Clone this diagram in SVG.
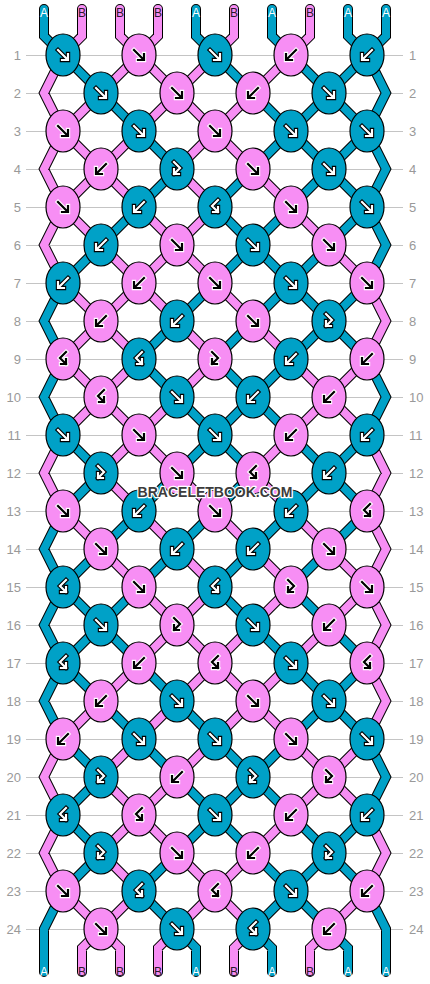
<svg xmlns="http://www.w3.org/2000/svg" xmlns:xlink="http://www.w3.org/1999/xlink" width="430" height="984" viewBox="0 0 430 984">
<style>
.grid line{stroke:#c4c4c4;stroke-width:1}
.num{font-family:"Liberation Sans",Arial,sans-serif;font-size:13px;fill:#999}
.nl{text-anchor:end}
.ol{fill:none;stroke:#000;stroke-width:10;stroke-linejoin:miter;stroke-linecap:round}
.ca{fill:none;stroke:#00a1c7;stroke-width:8;stroke-linejoin:miter;stroke-linecap:round}
.cb{fill:none;stroke:#f78ef4;stroke-width:8;stroke-linejoin:miter;stroke-linecap:round}
.ka{fill:#00a1c7;stroke:#000;stroke-width:1.2}
.kb{fill:#f78ef4;stroke:#000;stroke-width:1.2}
.w{color:#000;stroke:#fff}
.k{color:#fff;stroke:#000}
.lab{font-family:"Liberation Sans",Arial,sans-serif;font-size:12px;text-anchor:middle}
.la{fill:#fff}
.lb{fill:#2a1a2a}
.wm{font-family:"Liberation Sans",Arial,sans-serif;font-size:14px;font-weight:bold;text-anchor:middle;fill:#3c3c3c;stroke:#fff;stroke-width:2.5;paint-order:stroke;stroke-linejoin:round}
</style>
<defs>
<g id="aF" fill="none" stroke-linecap="square"><path d="M-5,-5L4,4M5,-1V5H-1" stroke="currentColor" stroke-width="4.4"/><path d="M-5,-5L4,4M5,-1V5H-1" stroke-width="2.2"/></g>
<g id="aB" fill="none" stroke-linecap="square"><path d="M5,-5L-4,4M-5,-1V5H1" stroke="currentColor" stroke-width="4.4"/><path d="M5,-5L-4,4M-5,-1V5H1" stroke-width="2.2"/></g>
<g id="aFB" fill="none" stroke-linecap="square"><path d="M-3,-7L3,-1L-3,5M-3,0V5H2" stroke="currentColor" stroke-width="4.4"/><path d="M-3,-7L3,-1L-3,5M-3,0V5H2" stroke-width="2.2"/></g>
<g id="aBF" fill="none" stroke-linecap="square"><path d="M3,-7L-3,-1L3,5M3,0V5H-2" stroke="currentColor" stroke-width="4.4"/><path d="M3,-7L-3,-1L3,5M3,0V5H-2" stroke-width="2.2"/></g>
<path id="sa" d="M44 9V36L63 55M196 9V36L215 55M272 9V36L291 55M348 9V36L367 55M386 9V36L367 55
M63 55L101 93M215 55L253 93M291 55L329 93M367 55L329 93M367 55L386 93L367 131
M101 93L139 131M253 93L291 131M329 93L291 131M329 93L367 131
M139 131L177 169M291 131L253 169M291 131L329 169M367 131L329 169M367 131L386 169L367 207
M177 169L139 207M253 169L215 207M329 169L291 207M329 169L367 207
M139 207L101 245M215 207L253 245M291 207L253 245M367 207L329 245M367 207L386 245L367 283
M101 245L63 283M253 245L215 283M253 245L291 283M329 245L291 283
M215 283L177 321M291 283L253 321M291 283L329 321M367 283L329 321M63 283L44 321L63 359
M177 321L139 359M253 321L215 359M329 321L291 359M329 321L367 359
M139 359L177 397M215 359L253 397M291 359L253 397M63 359L44 397L63 435M367 359L386 397L367 435
M177 397L215 435M253 397L215 435M253 397L291 435
M63 435L101 473M215 435L177 473M215 435L253 473M291 435L329 473M367 435L329 473
M101 473L63 511M177 473L139 511M253 473L215 511M329 473L291 511M329 473L367 511
M139 511L101 549M215 511L177 549M291 511L253 549M367 511L329 549M63 511L44 549L63 587
M101 549L63 587M177 549L139 587M253 549L215 587M329 549L291 587
M63 587L101 625M139 587L101 625M215 587L253 625M291 587L329 625M63 587L44 625L63 663
M101 625L63 663M101 625L139 663M253 625L291 663M329 625L367 663
M63 663L101 701M139 663L177 701M291 663L329 701M367 663L329 701M63 663L44 701L63 739
M101 701L139 739M177 701L215 739M329 701L291 739M329 701L367 739
M63 739L101 777M139 739L177 777M215 739L253 777M291 739L253 777M367 739L386 777L367 815
M101 777L63 815M177 777L215 815M253 777L215 815M253 777L291 815
M63 815L101 853M215 815L177 853M215 815L253 853M291 815L329 853M367 815L329 853
M101 853L63 891M177 853L139 891M253 853L291 891M329 853L291 891M329 853L367 891
M139 891L177 929M291 891L253 929M291 891L329 929M63 891L44 929V972M367 891L386 929V972
M177 929L196 948V972M253 929L272 948V972M329 929L348 948V972"/>
<path id="sb" d="M82 9V36L63 55M120 9V36L139 55M158 9V36L139 55M234 9V36L215 55M310 9V36L291 55
M139 55L101 93M139 55L177 93M215 55L177 93M291 55L253 93M63 55L44 93L63 131
M101 93L63 131M177 93L139 131M177 93L215 131M253 93L215 131
M63 131L101 169M139 131L101 169M215 131L177 169M215 131L253 169M63 131L44 169L63 207
M101 169L63 207M101 169L139 207M177 169L215 207M253 169L291 207
M63 207L101 245M139 207L177 245M215 207L177 245M291 207L329 245M63 207L44 245L63 283
M101 245L139 283M177 245L139 283M177 245L215 283M329 245L367 283
M63 283L101 321M139 283L101 321M139 283L177 321M215 283L253 321M367 283L386 321L367 359
M101 321L63 359M101 321L139 359M177 321L215 359M253 321L291 359
M63 359L101 397M139 359L101 397M215 359L177 397M291 359L329 397M367 359L329 397
M101 397L63 435M101 397L139 435M177 397L139 435M329 397L291 435M329 397L367 435
M139 435L101 473M139 435L177 473M291 435L253 473M63 435L44 473L63 511M367 435L386 473L367 511
M101 473L139 511M177 473L215 511M253 473L291 511
M63 511L101 549M139 511L177 549M215 511L253 549M291 511L329 549M367 511L386 549L367 587
M101 549L139 587M177 549L215 587M253 549L291 587M329 549L367 587
M139 587L177 625M215 587L177 625M291 587L253 625M367 587L329 625M367 587L386 625L367 663
M177 625L139 663M177 625L215 663M253 625L215 663M329 625L291 663
M139 663L101 701M215 663L177 701M215 663L253 701M291 663L253 701M367 663L386 701L367 739
M101 701L63 739M177 701L139 739M253 701L215 739M253 701L291 739
M139 739L101 777M215 739L177 777M291 739L329 777M367 739L329 777M63 739L44 777L63 815
M101 777L139 815M177 777L139 815M329 777L291 815M329 777L367 815
M139 815L101 853M139 815L177 853M291 815L253 853M63 815L44 853L63 891M367 815L386 853L367 891
M101 853L139 891M177 853L215 891M253 853L215 891
M63 891L101 929M139 891L101 929M215 891L177 929M215 891L253 929M367 891L329 929
M101 929L82 948V972M101 929L120 948V972M177 929L158 948V972M253 929L234 948V972M329 929L310 948V972"/>
</defs>
<g class="grid">
<line x1="26" y1="55.5" x2="403" y2="55.5"/><line x1="26" y1="93.5" x2="403" y2="93.5"/><line x1="26" y1="131.5" x2="403" y2="131.5"/><line x1="26" y1="169.5" x2="403" y2="169.5"/><line x1="26" y1="207.5" x2="403" y2="207.5"/><line x1="26" y1="245.5" x2="403" y2="245.5"/><line x1="26" y1="283.5" x2="403" y2="283.5"/><line x1="26" y1="321.5" x2="403" y2="321.5"/><line x1="26" y1="359.5" x2="403" y2="359.5"/><line x1="26" y1="397.5" x2="403" y2="397.5"/><line x1="26" y1="435.5" x2="403" y2="435.5"/><line x1="26" y1="473.5" x2="403" y2="473.5"/><line x1="26" y1="511.5" x2="403" y2="511.5"/><line x1="26" y1="549.5" x2="403" y2="549.5"/><line x1="26" y1="587.5" x2="403" y2="587.5"/><line x1="26" y1="625.5" x2="403" y2="625.5"/><line x1="26" y1="663.5" x2="403" y2="663.5"/><line x1="26" y1="701.5" x2="403" y2="701.5"/><line x1="26" y1="739.5" x2="403" y2="739.5"/><line x1="26" y1="777.5" x2="403" y2="777.5"/><line x1="26" y1="815.5" x2="403" y2="815.5"/><line x1="26" y1="853.5" x2="403" y2="853.5"/><line x1="26" y1="891.5" x2="403" y2="891.5"/><line x1="26" y1="929.5" x2="403" y2="929.5"/>
</g>
<g class="num">
<text class="nl" x="21" y="60">1</text><text class="nl" x="21" y="98">2</text><text class="nl" x="21" y="136">3</text><text class="nl" x="21" y="174">4</text><text class="nl" x="21" y="212">5</text><text class="nl" x="21" y="250">6</text><text class="nl" x="21" y="288">7</text><text class="nl" x="21" y="326">8</text><text class="nl" x="21" y="364">9</text><text class="nl" x="21" y="402">10</text><text class="nl" x="21" y="440">11</text><text class="nl" x="21" y="478">12</text><text class="nl" x="21" y="516">13</text><text class="nl" x="21" y="554">14</text><text class="nl" x="21" y="592">15</text><text class="nl" x="21" y="630">16</text><text class="nl" x="21" y="668">17</text><text class="nl" x="21" y="706">18</text><text class="nl" x="21" y="744">19</text><text class="nl" x="21" y="782">20</text><text class="nl" x="21" y="820">21</text><text class="nl" x="21" y="858">22</text><text class="nl" x="21" y="896">23</text><text class="nl" x="21" y="934">24</text>
<text x="409" y="60">1</text><text x="409" y="98">2</text><text x="409" y="136">3</text><text x="409" y="174">4</text><text x="409" y="212">5</text><text x="409" y="250">6</text><text x="409" y="288">7</text><text x="409" y="326">8</text><text x="409" y="364">9</text><text x="409" y="402">10</text><text x="409" y="440">11</text><text x="409" y="478">12</text><text x="409" y="516">13</text><text x="409" y="554">14</text><text x="409" y="592">15</text><text x="409" y="630">16</text><text x="409" y="668">17</text><text x="409" y="706">18</text><text x="409" y="744">19</text><text x="409" y="782">20</text><text x="409" y="820">21</text><text x="409" y="858">22</text><text x="409" y="896">23</text><text x="409" y="934">24</text>
</g>
<g id="connectors">
<use href="#sa" class="ol"/><use href="#sb" class="ol"/>
<use href="#sa" class="ca"/><use href="#sb" class="cb"/>
</g>
<g id="labels" class="lab">
<text class="la" x="44" y="17">A</text><text class="lb" x="82" y="17">B</text><text class="lb" x="120" y="17">B</text><text class="lb" x="158" y="17">B</text><text class="la" x="196" y="17">A</text><text class="lb" x="234" y="17">B</text><text class="la" x="272" y="17">A</text><text class="lb" x="310" y="17">B</text><text class="la" x="348" y="17">A</text><text class="la" x="386" y="17">A</text>
<text class="la" x="44" y="976">A</text><text class="lb" x="82" y="976">B</text><text class="lb" x="120" y="976">B</text><text class="lb" x="158" y="976">B</text><text class="la" x="196" y="976">A</text><text class="lb" x="234" y="976">B</text><text class="la" x="272" y="976">A</text><text class="lb" x="310" y="976">B</text><text class="la" x="348" y="976">A</text><text class="la" x="386" y="976">A</text>
</g>
<g id="knots">
<g id="k1-1"><ellipse class="ka" cx="63" cy="55" rx="17" ry="21"/><use href="#aF" x="63" y="55" class="w"/></g>
<g id="k1-2"><ellipse class="kb" cx="139" cy="55" rx="17" ry="21"/><use href="#aF" x="139" y="55" class="k"/></g>
<g id="k1-3"><ellipse class="ka" cx="215" cy="55" rx="17" ry="21"/><use href="#aF" x="215" y="55" class="w"/></g>
<g id="k1-4"><ellipse class="kb" cx="291" cy="55" rx="17" ry="21"/><use href="#aB" x="291" y="55" class="k"/></g>
<g id="k1-5"><ellipse class="ka" cx="367" cy="55" rx="17" ry="21"/><use href="#aB" x="367" y="55" class="w"/></g>
<g id="k2-1"><ellipse class="ka" cx="101" cy="93" rx="17" ry="21"/><use href="#aF" x="101" y="93" class="w"/></g>
<g id="k2-2"><ellipse class="kb" cx="177" cy="93" rx="17" ry="21"/><use href="#aF" x="177" y="93" class="k"/></g>
<g id="k2-3"><ellipse class="kb" cx="253" cy="93" rx="17" ry="21"/><use href="#aB" x="253" y="93" class="k"/></g>
<g id="k2-4"><ellipse class="ka" cx="329" cy="93" rx="17" ry="21"/><use href="#aF" x="329" y="93" class="w"/></g>
<g id="k3-1"><ellipse class="kb" cx="63" cy="131" rx="17" ry="21"/><use href="#aF" x="63" y="131" class="k"/></g>
<g id="k3-2"><ellipse class="ka" cx="139" cy="131" rx="17" ry="21"/><use href="#aF" x="139" y="131" class="w"/></g>
<g id="k3-3"><ellipse class="kb" cx="215" cy="131" rx="17" ry="21"/><use href="#aF" x="215" y="131" class="k"/></g>
<g id="k3-4"><ellipse class="ka" cx="291" cy="131" rx="17" ry="21"/><use href="#aF" x="291" y="131" class="w"/></g>
<g id="k3-5"><ellipse class="ka" cx="367" cy="131" rx="17" ry="21"/><use href="#aF" x="367" y="131" class="w"/></g>
<g id="k4-1"><ellipse class="kb" cx="101" cy="169" rx="17" ry="21"/><use href="#aB" x="101" y="169" class="k"/></g>
<g id="k4-2"><ellipse class="ka" cx="177" cy="169" rx="17" ry="21"/><use href="#aFB" x="177" y="169" class="w"/></g>
<g id="k4-3"><ellipse class="kb" cx="253" cy="169" rx="17" ry="21"/><use href="#aF" x="253" y="169" class="k"/></g>
<g id="k4-4"><ellipse class="ka" cx="329" cy="169" rx="17" ry="21"/><use href="#aF" x="329" y="169" class="w"/></g>
<g id="k5-1"><ellipse class="kb" cx="63" cy="207" rx="17" ry="21"/><use href="#aF" x="63" y="207" class="k"/></g>
<g id="k5-2"><ellipse class="ka" cx="139" cy="207" rx="17" ry="21"/><use href="#aB" x="139" y="207" class="w"/></g>
<g id="k5-3"><ellipse class="ka" cx="215" cy="207" rx="17" ry="21"/><use href="#aBF" x="215" y="207" class="w"/></g>
<g id="k5-4"><ellipse class="kb" cx="291" cy="207" rx="17" ry="21"/><use href="#aF" x="291" y="207" class="k"/></g>
<g id="k5-5"><ellipse class="ka" cx="367" cy="207" rx="17" ry="21"/><use href="#aF" x="367" y="207" class="w"/></g>
<g id="k6-1"><ellipse class="ka" cx="101" cy="245" rx="17" ry="21"/><use href="#aB" x="101" y="245" class="w"/></g>
<g id="k6-2"><ellipse class="kb" cx="177" cy="245" rx="17" ry="21"/><use href="#aF" x="177" y="245" class="k"/></g>
<g id="k6-3"><ellipse class="ka" cx="253" cy="245" rx="17" ry="21"/><use href="#aF" x="253" y="245" class="w"/></g>
<g id="k6-4"><ellipse class="kb" cx="329" cy="245" rx="17" ry="21"/><use href="#aF" x="329" y="245" class="k"/></g>
<g id="k7-1"><ellipse class="ka" cx="63" cy="283" rx="17" ry="21"/><use href="#aB" x="63" y="283" class="w"/></g>
<g id="k7-2"><ellipse class="kb" cx="139" cy="283" rx="17" ry="21"/><use href="#aB" x="139" y="283" class="k"/></g>
<g id="k7-3"><ellipse class="kb" cx="215" cy="283" rx="17" ry="21"/><use href="#aF" x="215" y="283" class="k"/></g>
<g id="k7-4"><ellipse class="ka" cx="291" cy="283" rx="17" ry="21"/><use href="#aF" x="291" y="283" class="w"/></g>
<g id="k7-5"><ellipse class="kb" cx="367" cy="283" rx="17" ry="21"/><use href="#aF" x="367" y="283" class="k"/></g>
<g id="k8-1"><ellipse class="kb" cx="101" cy="321" rx="17" ry="21"/><use href="#aB" x="101" y="321" class="k"/></g>
<g id="k8-2"><ellipse class="ka" cx="177" cy="321" rx="17" ry="21"/><use href="#aB" x="177" y="321" class="w"/></g>
<g id="k8-3"><ellipse class="kb" cx="253" cy="321" rx="17" ry="21"/><use href="#aF" x="253" y="321" class="k"/></g>
<g id="k8-4"><ellipse class="ka" cx="329" cy="321" rx="17" ry="21"/><use href="#aFB" x="329" y="321" class="w"/></g>
<g id="k9-1"><ellipse class="kb" cx="63" cy="359" rx="17" ry="21"/><use href="#aBF" x="63" y="359" class="k"/></g>
<g id="k9-2"><ellipse class="ka" cx="139" cy="359" rx="17" ry="21"/><use href="#aBF" x="139" y="359" class="w"/></g>
<g id="k9-3"><ellipse class="kb" cx="215" cy="359" rx="17" ry="21"/><use href="#aFB" x="215" y="359" class="k"/></g>
<g id="k9-4"><ellipse class="ka" cx="291" cy="359" rx="17" ry="21"/><use href="#aB" x="291" y="359" class="w"/></g>
<g id="k9-5"><ellipse class="kb" cx="367" cy="359" rx="17" ry="21"/><use href="#aB" x="367" y="359" class="k"/></g>
<g id="k10-1"><ellipse class="kb" cx="101" cy="397" rx="17" ry="21"/><use href="#aBF" x="101" y="397" class="k"/></g>
<g id="k10-2"><ellipse class="ka" cx="177" cy="397" rx="17" ry="21"/><use href="#aF" x="177" y="397" class="w"/></g>
<g id="k10-3"><ellipse class="ka" cx="253" cy="397" rx="17" ry="21"/><use href="#aB" x="253" y="397" class="w"/></g>
<g id="k10-4"><ellipse class="kb" cx="329" cy="397" rx="17" ry="21"/><use href="#aB" x="329" y="397" class="k"/></g>
<g id="k11-1"><ellipse class="ka" cx="63" cy="435" rx="17" ry="21"/><use href="#aF" x="63" y="435" class="w"/></g>
<g id="k11-2"><ellipse class="kb" cx="139" cy="435" rx="17" ry="21"/><use href="#aF" x="139" y="435" class="k"/></g>
<g id="k11-3"><ellipse class="ka" cx="215" cy="435" rx="17" ry="21"/><use href="#aF" x="215" y="435" class="w"/></g>
<g id="k11-4"><ellipse class="kb" cx="291" cy="435" rx="17" ry="21"/><use href="#aB" x="291" y="435" class="k"/></g>
<g id="k11-5"><ellipse class="ka" cx="367" cy="435" rx="17" ry="21"/><use href="#aB" x="367" y="435" class="w"/></g>
<g id="k12-1"><ellipse class="ka" cx="101" cy="473" rx="17" ry="21"/><use href="#aFB" x="101" y="473" class="w"/></g>
<g id="k12-2"><ellipse class="kb" cx="177" cy="473" rx="17" ry="21"/><use href="#aF" x="177" y="473" class="k"/></g>
<g id="k12-3"><ellipse class="kb" cx="253" cy="473" rx="17" ry="21"/><use href="#aBF" x="253" y="473" class="k"/></g>
<g id="k12-4"><ellipse class="ka" cx="329" cy="473" rx="17" ry="21"/><use href="#aB" x="329" y="473" class="w"/></g>
<g id="k13-1"><ellipse class="kb" cx="63" cy="511" rx="17" ry="21"/><use href="#aF" x="63" y="511" class="k"/></g>
<g id="k13-2"><ellipse class="ka" cx="139" cy="511" rx="17" ry="21"/><use href="#aB" x="139" y="511" class="w"/></g>
<g id="k13-3"><ellipse class="kb" cx="215" cy="511" rx="17" ry="21"/><use href="#aF" x="215" y="511" class="k"/></g>
<g id="k13-4"><ellipse class="ka" cx="291" cy="511" rx="17" ry="21"/><use href="#aB" x="291" y="511" class="w"/></g>
<g id="k13-5"><ellipse class="kb" cx="367" cy="511" rx="17" ry="21"/><use href="#aBF" x="367" y="511" class="k"/></g>
<g id="k14-1"><ellipse class="kb" cx="101" cy="549" rx="17" ry="21"/><use href="#aF" x="101" y="549" class="k"/></g>
<g id="k14-2"><ellipse class="ka" cx="177" cy="549" rx="17" ry="21"/><use href="#aB" x="177" y="549" class="w"/></g>
<g id="k14-3"><ellipse class="ka" cx="253" cy="549" rx="17" ry="21"/><use href="#aB" x="253" y="549" class="w"/></g>
<g id="k14-4"><ellipse class="kb" cx="329" cy="549" rx="17" ry="21"/><use href="#aF" x="329" y="549" class="k"/></g>
<g id="k15-1"><ellipse class="ka" cx="63" cy="587" rx="17" ry="21"/><use href="#aBF" x="63" y="587" class="w"/></g>
<g id="k15-2"><ellipse class="kb" cx="139" cy="587" rx="17" ry="21"/><use href="#aF" x="139" y="587" class="k"/></g>
<g id="k15-3"><ellipse class="ka" cx="215" cy="587" rx="17" ry="21"/><use href="#aBF" x="215" y="587" class="w"/></g>
<g id="k15-4"><ellipse class="kb" cx="291" cy="587" rx="17" ry="21"/><use href="#aFB" x="291" y="587" class="k"/></g>
<g id="k15-5"><ellipse class="kb" cx="367" cy="587" rx="17" ry="21"/><use href="#aF" x="367" y="587" class="k"/></g>
<g id="k16-1"><ellipse class="ka" cx="101" cy="625" rx="17" ry="21"/><use href="#aF" x="101" y="625" class="w"/></g>
<g id="k16-2"><ellipse class="kb" cx="177" cy="625" rx="17" ry="21"/><use href="#aFB" x="177" y="625" class="k"/></g>
<g id="k16-3"><ellipse class="ka" cx="253" cy="625" rx="17" ry="21"/><use href="#aF" x="253" y="625" class="w"/></g>
<g id="k16-4"><ellipse class="kb" cx="329" cy="625" rx="17" ry="21"/><use href="#aB" x="329" y="625" class="k"/></g>
<g id="k17-1"><ellipse class="ka" cx="63" cy="663" rx="17" ry="21"/><use href="#aBF" x="63" y="663" class="w"/></g>
<g id="k17-2"><ellipse class="kb" cx="139" cy="663" rx="17" ry="21"/><use href="#aB" x="139" y="663" class="k"/></g>
<g id="k17-3"><ellipse class="kb" cx="215" cy="663" rx="17" ry="21"/><use href="#aBF" x="215" y="663" class="k"/></g>
<g id="k17-4"><ellipse class="ka" cx="291" cy="663" rx="17" ry="21"/><use href="#aF" x="291" y="663" class="w"/></g>
<g id="k17-5"><ellipse class="kb" cx="367" cy="663" rx="17" ry="21"/><use href="#aBF" x="367" y="663" class="k"/></g>
<g id="k18-1"><ellipse class="kb" cx="101" cy="701" rx="17" ry="21"/><use href="#aB" x="101" y="701" class="k"/></g>
<g id="k18-2"><ellipse class="ka" cx="177" cy="701" rx="17" ry="21"/><use href="#aF" x="177" y="701" class="w"/></g>
<g id="k18-3"><ellipse class="kb" cx="253" cy="701" rx="17" ry="21"/><use href="#aF" x="253" y="701" class="k"/></g>
<g id="k18-4"><ellipse class="ka" cx="329" cy="701" rx="17" ry="21"/><use href="#aF" x="329" y="701" class="w"/></g>
<g id="k19-1"><ellipse class="kb" cx="63" cy="739" rx="17" ry="21"/><use href="#aB" x="63" y="739" class="k"/></g>
<g id="k19-2"><ellipse class="ka" cx="139" cy="739" rx="17" ry="21"/><use href="#aF" x="139" y="739" class="w"/></g>
<g id="k19-3"><ellipse class="ka" cx="215" cy="739" rx="17" ry="21"/><use href="#aF" x="215" y="739" class="w"/></g>
<g id="k19-4"><ellipse class="kb" cx="291" cy="739" rx="17" ry="21"/><use href="#aF" x="291" y="739" class="k"/></g>
<g id="k19-5"><ellipse class="ka" cx="367" cy="739" rx="17" ry="21"/><use href="#aF" x="367" y="739" class="w"/></g>
<g id="k20-1"><ellipse class="ka" cx="101" cy="777" rx="17" ry="21"/><use href="#aFB" x="101" y="777" class="w"/></g>
<g id="k20-2"><ellipse class="kb" cx="177" cy="777" rx="17" ry="21"/><use href="#aB" x="177" y="777" class="k"/></g>
<g id="k20-3"><ellipse class="ka" cx="253" cy="777" rx="17" ry="21"/><use href="#aFB" x="253" y="777" class="w"/></g>
<g id="k20-4"><ellipse class="kb" cx="329" cy="777" rx="17" ry="21"/><use href="#aFB" x="329" y="777" class="k"/></g>
<g id="k21-1"><ellipse class="ka" cx="63" cy="815" rx="17" ry="21"/><use href="#aBF" x="63" y="815" class="w"/></g>
<g id="k21-2"><ellipse class="kb" cx="139" cy="815" rx="17" ry="21"/><use href="#aBF" x="139" y="815" class="k"/></g>
<g id="k21-3"><ellipse class="ka" cx="215" cy="815" rx="17" ry="21"/><use href="#aF" x="215" y="815" class="w"/></g>
<g id="k21-4"><ellipse class="kb" cx="291" cy="815" rx="17" ry="21"/><use href="#aB" x="291" y="815" class="k"/></g>
<g id="k21-5"><ellipse class="ka" cx="367" cy="815" rx="17" ry="21"/><use href="#aB" x="367" y="815" class="w"/></g>
<g id="k22-1"><ellipse class="ka" cx="101" cy="853" rx="17" ry="21"/><use href="#aFB" x="101" y="853" class="w"/></g>
<g id="k22-2"><ellipse class="kb" cx="177" cy="853" rx="17" ry="21"/><use href="#aF" x="177" y="853" class="k"/></g>
<g id="k22-3"><ellipse class="kb" cx="253" cy="853" rx="17" ry="21"/><use href="#aB" x="253" y="853" class="k"/></g>
<g id="k22-4"><ellipse class="ka" cx="329" cy="853" rx="17" ry="21"/><use href="#aFB" x="329" y="853" class="w"/></g>
<g id="k23-1"><ellipse class="kb" cx="63" cy="891" rx="17" ry="21"/><use href="#aF" x="63" y="891" class="k"/></g>
<g id="k23-2"><ellipse class="ka" cx="139" cy="891" rx="17" ry="21"/><use href="#aBF" x="139" y="891" class="w"/></g>
<g id="k23-3"><ellipse class="kb" cx="215" cy="891" rx="17" ry="21"/><use href="#aBF" x="215" y="891" class="k"/></g>
<g id="k23-4"><ellipse class="ka" cx="291" cy="891" rx="17" ry="21"/><use href="#aF" x="291" y="891" class="w"/></g>
<g id="k23-5"><ellipse class="kb" cx="367" cy="891" rx="17" ry="21"/><use href="#aB" x="367" y="891" class="k"/></g>
<g id="k24-1"><ellipse class="kb" cx="101" cy="929" rx="17" ry="21"/><use href="#aF" x="101" y="929" class="k"/></g>
<g id="k24-2"><ellipse class="ka" cx="177" cy="929" rx="17" ry="21"/><use href="#aF" x="177" y="929" class="w"/></g>
<g id="k24-3"><ellipse class="ka" cx="253" cy="929" rx="17" ry="21"/><use href="#aBF" x="253" y="929" class="w"/></g>
<g id="k24-4"><ellipse class="kb" cx="329" cy="929" rx="17" ry="21"/><use href="#aB" x="329" y="929" class="k"/></g>
</g>
<text class="wm" x="215" y="497">BRACELETBOOK.COM</text>
</svg>
